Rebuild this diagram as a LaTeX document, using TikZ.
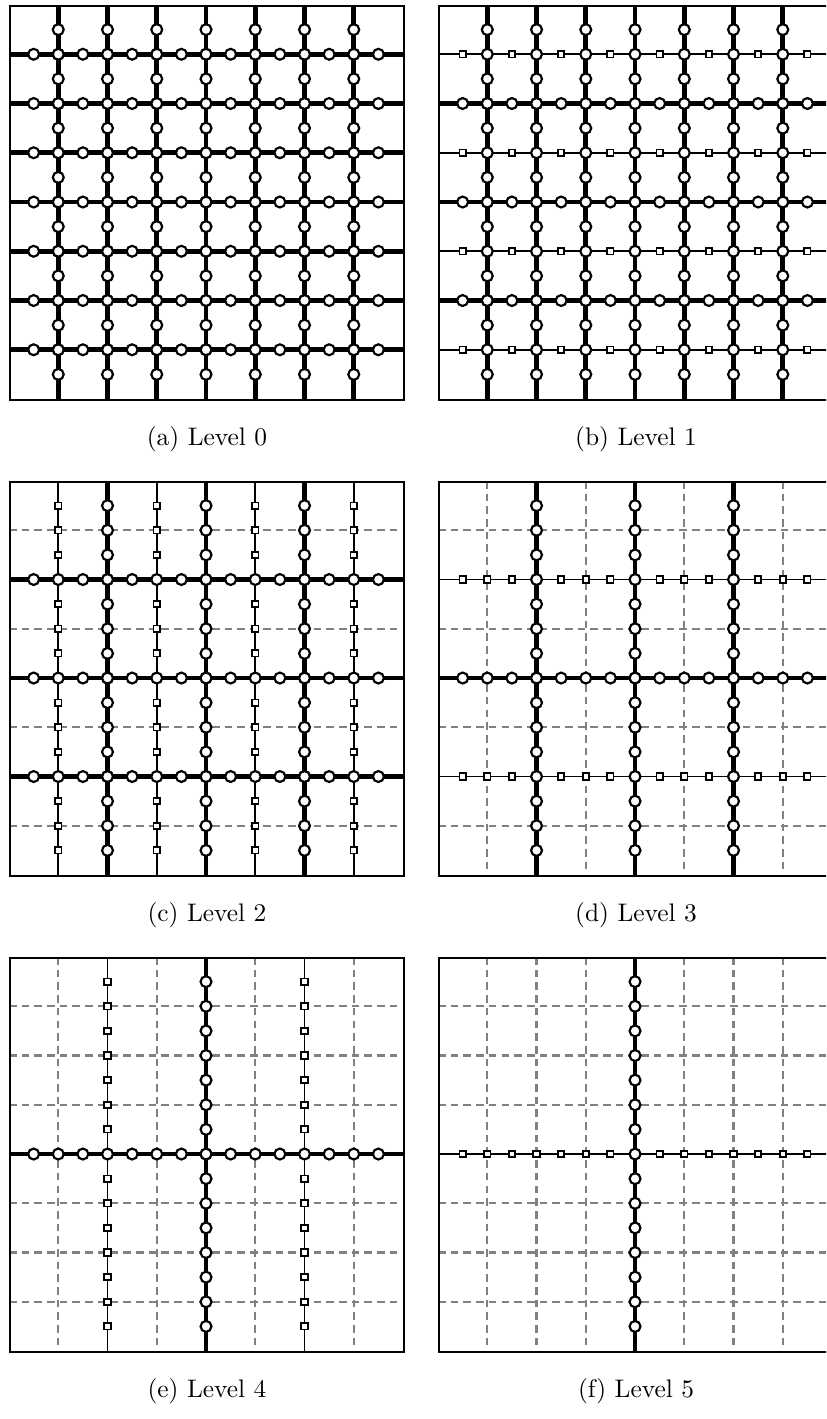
\documentclass[tikz,border=0pt]{standalone}
\usepackage{xcolor}
\usetikzlibrary{positioning}

\def\cellsize{19.4pt}

\tikzset{
  lt0/.style={gray, line width=0.85pt, dash pattern=on 3pt off 2pt},
  lt1/.style={black, line width=0.65pt},
  lt2/.style={black, line width=1.9pt},
  mk1/.style={rectangle, draw, fill=white, line width=0.7pt, minimum size=2.5pt, inner sep=0pt},
  mk2/.style={circle, draw, fill=white, line width=0.85pt, minimum size=4.3pt, inner sep=0pt},
  panel/.style={draw, line width=0.75pt, inner sep=0pt, minimum size=8*\cellsize, anchor=north west},
  subcap/.style={inner sep=1pt}
}

\begin{document}
\begin{tikzpicture}[x=\cellsize, y={(0pt,-\cellsize)}]
  \def\W{16.772}
  \def\H{28.812}
  \useasboundingbox (0,0) rectangle (\W,\H);
  \clip (0,0) rectangle (\W,\H);

%levels: 0 = coarse (dashed), 1 = thin with squares, 2 = thick with circles
  \foreach \lvl/\rows/\cols/\tag in {
      0/{2,2,2,2,2,2,2}/{2,2,2,2,2,2,2}/a,
      1/{1,2,1,2,1,2,1}/{2,2,2,2,2,2,2}/b,
      2/{0,2,0,2,0,2,0}/{1,2,1,2,1,2,1}/c,
      3/{0,1,0,2,0,1,0}/{0,2,0,2,0,2,0}/d,
      4/{0,0,0,2,0,0,0}/{0,1,0,2,0,1,0}/e,
      5/{0,0,0,1,0,0,0}/{0,0,0,2,0,0,0}/f} {
    \pgfmathsetmacro\px{0.183+8.711*mod(\lvl,2)}
    \pgfmathsetmacro\py{0.102+9.665*int(\lvl/2)}
    \begin{scope}[shift={(\px,\py)}]
      % grid lines
      \foreach \pass in {0,1,2} {
        \foreach \t [count=\i] in \rows {
          \ifnum\t=\pass \draw[lt\t] (0,\i) -- (8,\i); \fi
        }
        \foreach \t [count=\i] in \cols {
          \ifnum\t=\pass \draw[lt\t] (\i,0) -- (\i,8); \fi
        }
      }
      % points: squares first, circles on top
      \foreach \pass in {1,2} {
        \foreach \t [count=\i] in \rows {
          \ifnum\t=\pass
            \foreach \k in {1,...,15}
              \node[mk\t] (p\tag-r\i-\k) at (\k/2,\i) {};
          \fi
        }
        \foreach \t [count=\i] in \cols {
          \ifnum\t=\pass
            \foreach \k in {1,...,15}
              \node[mk\t] (p\tag-c\i-\k) at (\i,\k/2) {};
          \fi
        }
      }
      \node[panel] (frame\tag) at (0,0) {};
      \node[subcap, below=14.97pt of frame\tag.south, anchor=center] (cap\tag) {(\tag) Level \lvl};
    \end{scope}
  }
\end{tikzpicture}
\end{document}
